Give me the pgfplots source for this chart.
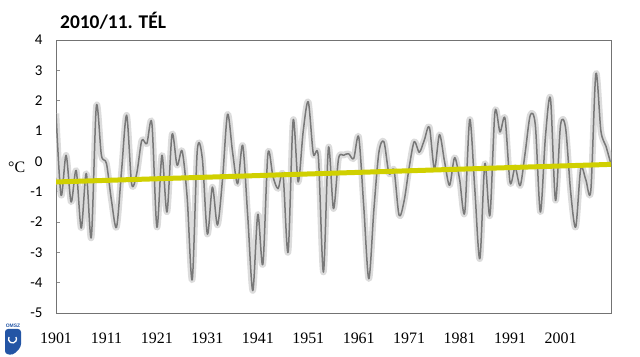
\documentclass[border=0pt]{standalone}
\usepackage{fontspec}
\setmainfont{Liberation Serif}
\newfontfamily\titlefont{Carlito}
\newfontfamily\logofont{Liberation Sans}
\usepackage{pgfplots}
\pgfplotsset{compat=1.18}
\usepackage{pgfplotstable}
\definecolor{trend}{RGB}{208,208,0}
\definecolor{curve}{RGB}{120,120,120}
\definecolor{halo}{RGB}{220,220,220}
\definecolor{omsz}{RGB}{35,85,165}

\pgfplotstableread{
year val
1901 1.58
1902 -1.12
1903 0.20
1904 -1.34
1905 -0.30
1906 -2.20
1907 -0.40
1908 -2.50
1909 1.82
1910 0.20
1911 -0.07
1912 -1.30
1913 -2.17
1914 -0.30
1915 1.52
1916 -0.75
1917 -0.40
1918 0.69
1919 0.58
1920 1.26
1921 -2.17
1922 0.20
1923 -1.67
1924 0.89
1925 -0.13
1926 0.34
1927 -1.20
1928 -3.90
1929 0.35
1930 0.10
1931 -2.40
1932 -0.85
1933 -2.10
1934 -0.60
1935 1.55
1936 0.30
1937 -0.74
1938 0.53
1939 -1.80
1940 -4.26
1941 -1.75
1942 -3.40
1943 0.25
1944 -0.50
1945 -0.90
1946 -0.45
1947 -2.99
1948 1.35
1949 -0.68
1950 1.00
1951 1.96
1952 0.25
1953 0.14
1954 -3.65
1955 0.45
1956 -1.56
1957 0.09
1958 0.20
1959 0.25
1960 0.09
1961 0.80
1962 -1.50
1963 -3.87
1964 -1.60
1965 0.30
1966 0.64
1967 -0.41
1968 -0.30
1969 -1.78
1970 -1.30
1971 -0.20
1972 0.65
1973 0.30
1974 0.70
1975 1.13
1976 -0.25
1977 0.88
1978 0.00
1979 -0.79
1980 0.12
1981 -0.60
1982 -1.70
1983 1.38
1984 -0.90
1985 -3.21
1986 -0.08
1987 -1.78
1988 1.63
1989 0.97
1990 1.41
1991 -0.70
1992 -0.20
1993 -0.80
1994 0.30
1995 1.52
1996 1.20
1997 -1.67
1998 0.80
1999 2.07
2000 -1.29
2001 1.20
2002 1.10
2003 -1.00
2004 -2.17
2005 -0.24
2006 -0.60
2007 -0.96
2008 2.89
2009 1.00
2010 0.50
2011 -0.10
}\tel

\begin{document}
\begin{tikzpicture}
\useasboundingbox (0bp,0bp) rectangle (640bp,357bp);
\begin{axis}[
  at={(56bp,44bp)}, anchor=south west,
  scale only axis, width=555bp, height=273bp,
  xmin=1901, xmax=2011, ymin=-5, ymax=4,
  xtick={1901,1911,1921,1931,1941,1951,1961,1971,1981,1991,2001},
  xticklabels={1901,1911,1921,1931,1941,1951,1961,1971,1981,1991,2001},
  ytick={-5,-4,-3,-2,-1,0,1,2,3,4},
  ytick pos=left,
  tick align=inside,
  major tick length=4bp,
  x tick style={draw=none},
  y tick style={black!45, line width=0.8bp},
  axis line style={black!55, line width=1bp},
  xticklabel style={font=\fontsize{16}{18}\selectfont, yshift=-16bp},
  yticklabel style={font=\titlefont\fontsize{15}{18}\selectfont, xshift=-10bp},
  /pgf/number format/assume math mode=true,
]
\addplot[halo, line width=6.5bp, smooth, line join=round] table[x=year,y=val]{\tel};
\addplot[curve, line width=1.5bp, smooth, line join=round] table[x=year,y=val]{\tel};
\addplot[trend, line width=5bp] coordinates {(1901,-0.68) (2011,-0.10)};
\end{axis}
\node[anchor=base west, inner sep=0pt, font=\titlefont\bfseries\fontsize{19.5}{22}\selectfont] at (60bp,328bp) {2010/11. TÉL};
\node[anchor=base west, inner sep=0pt, font=\fontsize{16}{18}\selectfont] at (8bp,184bp) {°C};
% logo
\fill[omsz, rounded corners=3bp] (5bp,3bp) -- (5bp,28bp) -- (21bp,28bp) -- (21bp,10bp) -- (13bp,2bp) -- cycle;
\draw[white, line width=1.3bp] (9bp,20bp) arc[start angle=150, end angle=390, radius=4bp];
\node[anchor=south, inner sep=0pt, text=omsz, font=\logofont\bfseries\fontsize{5}{6}\selectfont] at (13bp,29bp) {OMSZ};
\end{tikzpicture}
\end{document}
